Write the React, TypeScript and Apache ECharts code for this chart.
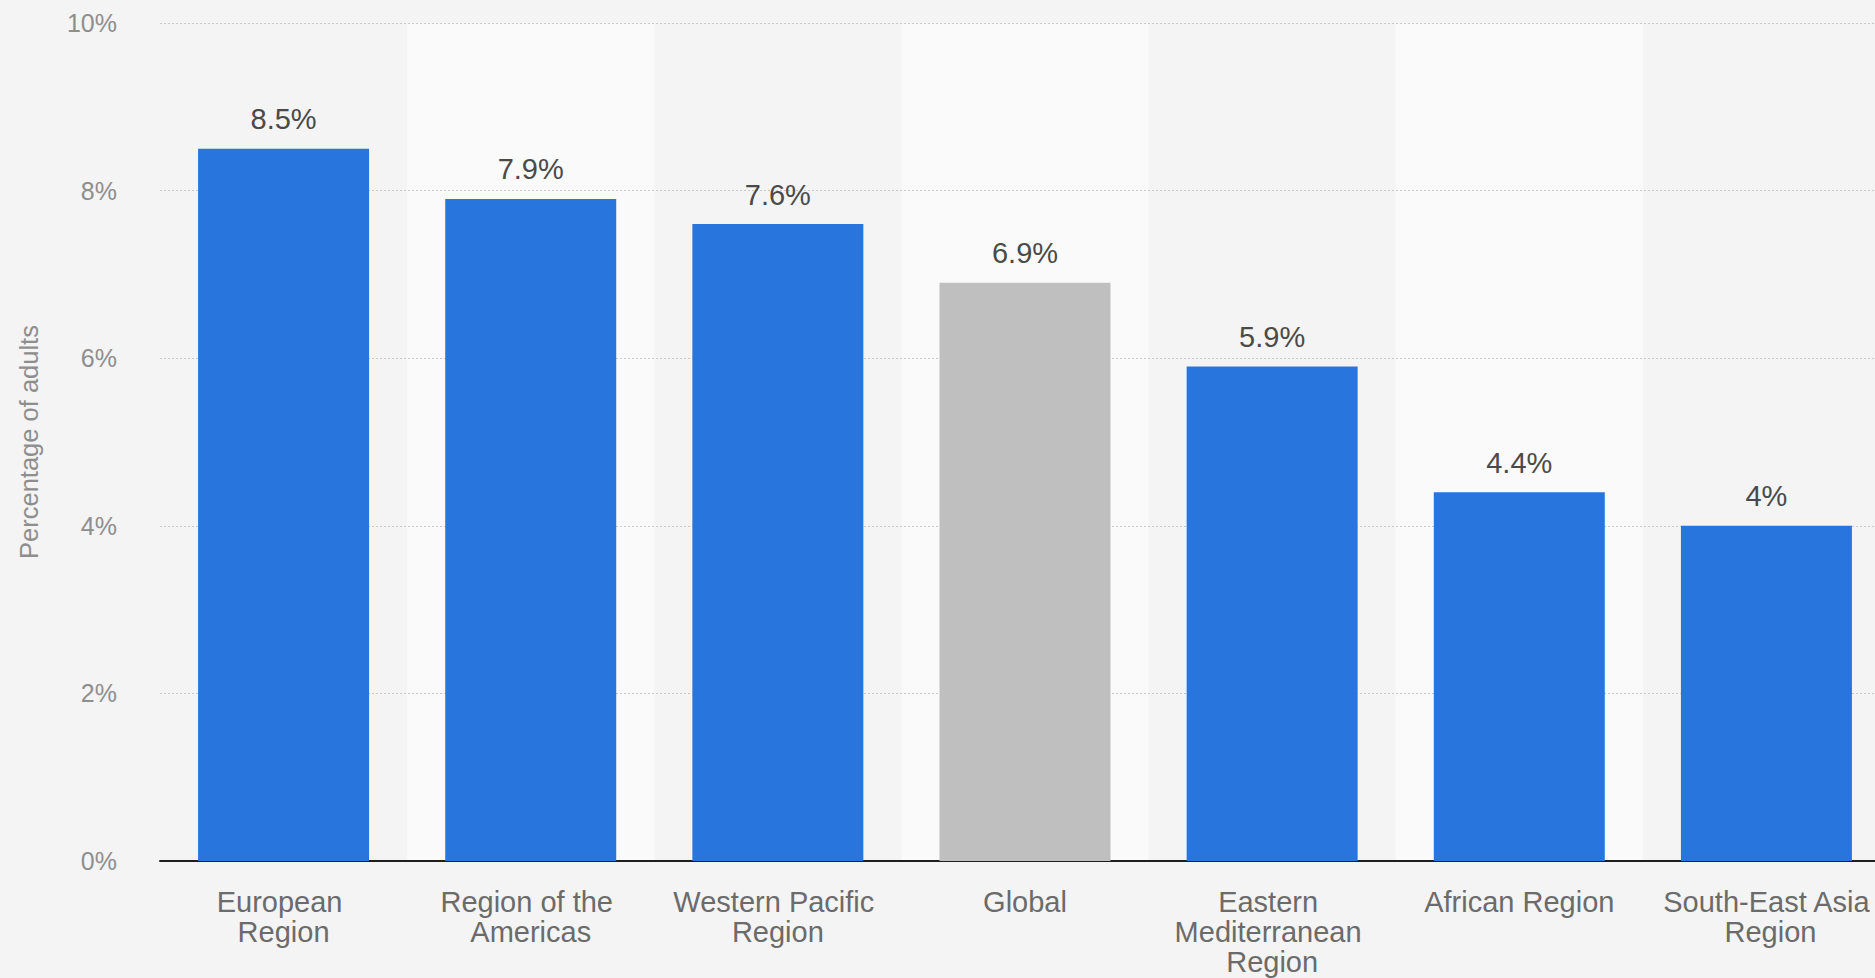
import React, { useEffect, useRef } from "react";
import * as echarts from "echarts";

const categories = [
  "European Region",
  "Region of the Americas",
  "Western Pacific Region",
  "Global",
  "Eastern Mediterranean Region",
  "African Region",
  "South-East Asia Region",
];
const values = [8.5, 7.9, 7.6, 6.9, 5.9, 4.4, 4.0];
const highlightCategory = "Global";
const yTicks = [0, 2, 4, 6, 8, 10];
const yAxisName = "Percentage of adults";

const BLUE = "#2876dd";
const GRAY = "#bfbfbf";
const FONT = "'Liberation Sans', Arial, Helvetica, sans-serif";

export default function App() {
  const ref = useRef<HTMLDivElement>(null);
  useEffect(() => {
    if (!ref.current) return;
    const chart = echarts.init(ref.current, undefined, { renderer: "svg" });
    chart.setOption({
      animation: false,
      backgroundColor: "#f4f4f4",
      textStyle: { fontFamily: FONT },
      grid: { left: 160, right: 0, top: 23, bottom: 117, containLabel: false },
      xAxis: {
        type: "category",
        data: categories,
        z: 0,
        axisLine: { show: true, lineStyle: { color: "#1e1e1e", width: 2 } },
        axisTick: { show: false },
        splitArea: { show: true, areaStyle: { color: ["rgba(0,0,0,0)", "#fafafa"] } },
        axisLabel: {
          interval: 0,
          fontSize: 29,
          lineHeight: 30,
          color: "#6b6b6b",
          fontFamily: FONT,
          margin: 26,
          width: 215,
          overflow: "break",
        },
      },
      yAxis: {
        type: "value",
        z: 1,
        min: yTicks[0],
        max: yTicks[yTicks.length - 1],
        interval: 2,
        name: yAxisName,
        nameLocation: "middle",
        nameGap: 118,
        nameRotate: 90,
        nameTextStyle: { fontSize: 25.5, color: "#8e8e8e", fontFamily: FONT },
        axisLine: { show: false },
        axisTick: { show: false },
        axisLabel: {
          fontSize: 25,
          color: "#8e8e8e",
          fontFamily: FONT,
          margin: 43,
          formatter: (v: number) => `${v}%`,
        },
        splitLine: {
          show: true,
          showMinLine: false,
          lineStyle: { color: "#c8c8c8", type: [2, 2], width: 1 },
        },
      },
      series: [
        {
          type: "bar",
          z: 2,
          data: values.map((v, i) => ({
            value: v,
            itemStyle: { color: categories[i] === highlightCategory ? GRAY : BLUE },
          })),
          barWidth: 171,
          label: {
            show: true,
            position: "top",
            distance: 15,
            fontSize: 29,
            color: "#4a4a4a",
            fontFamily: FONT,
            formatter: (p: any) => `${p.value}%`,
          },
        },
      ],
    });
    return () => chart.dispose();
  }, []);
  return (
    <div style={{ position: "fixed", left: 0, top: 0, width: 1875, height: 978, overflow: "hidden" }}>
      <div ref={ref} style={{ width: 1890, height: 978 }} />
    </div>
  );
}
